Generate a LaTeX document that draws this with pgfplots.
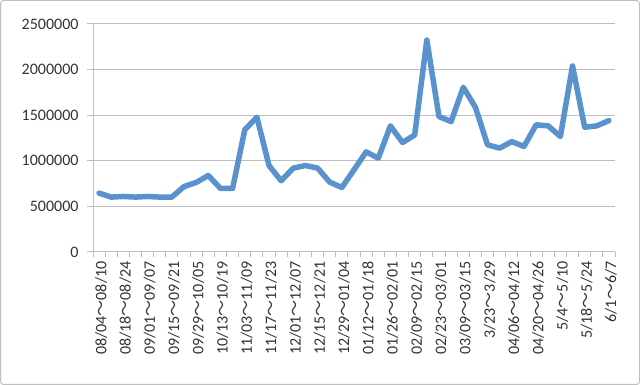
\documentclass[border=0pt]{standalone}
\usepackage{fontspec}
\setmainfont{Carlito}
\newfontfamily\cjk{Noto Sans CJK JP}
\usepackage{pgfplots}
\pgfplotsset{compat=1.18}
\newcommand{\tl}{{\cjk ～}}
\definecolor{linecol}{RGB}{90,146,206}
\definecolor{gridcol}{RGB}{190,190,190}
\begin{document}
\begin{tikzpicture}
\useasboundingbox (0,0) rectangle (640pt,385pt);
\draw[gridcol, line width=1pt, rounded corners=3pt] (0.5pt,0.5pt) rectangle (639.5pt,384.5pt);
\begin{axis}[
  at={(93pt,133pt)}, anchor=south west,
  scale only axis, width=522pt, height=228pt,
  xmin=-0.5, xmax=42.5, ymin=0, ymax=2500000,
  axis x line*=bottom, axis y line*=left,
  axis line style={gridcol, line width=1pt},
  tick align=outside,
  xtick={0,2,...,42},
  major x tick style={draw=none},
  minor xtick={-0.5,0.5,...,42.5},
  minor tick length=5pt,
  major tick length=6pt,
  every tick/.style={gridcol, line width=1pt},
  ytick={0,500000,...,2500000},
  ymajorgrids,
  grid style={gridcol, line width=1pt},
  scaled y ticks=false,
  /pgf/number format/assume math mode=true,
  yticklabel style={/pgf/number format/fixed, /pgf/number format/1000 sep={}, xshift=-5pt},
  tick label style={font=\fontsize{16}{19}\selectfont, text=black!80},
  xticklabel style={rotate=90, anchor=east, yshift=-2pt},
  xticklabels={08/04\tl08/10, 08/18\tl08/24, 09/01\tl09/07, 09/15\tl09/21, 09/29\tl10/05, 10/13\tl10/19, 11/03\tl11/09, 11/17\tl11/23, 12/01\tl12/07, 12/15\tl12/21, 12/29\tl01/04, 01/12\tl01/18, 01/26\tl02/01, 02/09\tl02/15, 02/23\tl03/01, 03/09\tl03/15, 3/23\tl3/29, 04/06\tl04/12, 04/20\tl04/26, 5/4\tl5/10, 5/18\tl5/24, 6/1\tl6/7},
]
\addplot[linecol, line width=5.5pt, line join=round, line cap=round] coordinates {
(0,646000) (1,602000) (2,609000) (3,602000) (4,609000) (5,602000) (6,602000)
(7,718000) (8,762000) (9,839000) (10,697000) (11,697000) (12,1339000) (13,1478000)
(14,948000) (15,781000) (16,920000) (17,948000) (18,920000) (19,766000) (20,707000)
(21,901000) (22,1098000) (23,1029000) (24,1383000) (25,1200000) (26,1284000) (27,2324000)
(28,1485000) (29,1430000) (30,1806000) (31,1587000) (32,1175000) (33,1139000) (34,1211000)
(35,1157000) (36,1394000) (37,1383000) (38,1266000) (39,2040000) (40,1368000) (41,1383000)
(42,1441000)
};
\end{axis}
\end{tikzpicture}
\end{document}
